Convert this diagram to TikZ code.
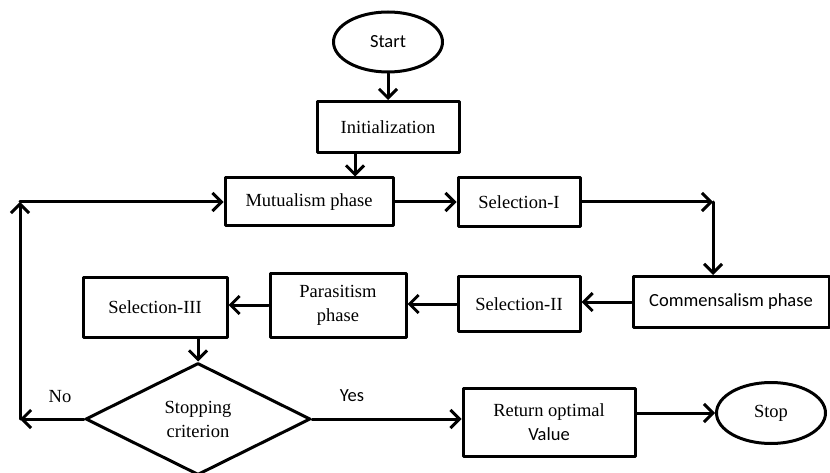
\documentclass[tikz,border=0pt]{standalone}
\usepackage{fontspec}
\setmainfont{Liberation Serif}
\newfontfamily\calibri{Carlito}
\usetikzlibrary{shapes.geometric,arrows.meta}

\begin{document}
\begin{tikzpicture}[x=1pt, y=-1pt, line width=3pt, line cap=round, line join=round,
  font=\fontsize{18.5}{24}\selectfont,
  box/.style={draw, rectangle, inner sep=0pt, align=center},
  term/.style={draw, ellipse, inner sep=0pt},
  flow/.style={-{Straight Barb[length=9pt,width=18pt]}}]
  \useasboundingbox (0,0) rectangle (830,473);
  % start and stop
  \node[term, minimum width=109pt, minimum height=60pt] (start) at (388,42) {\calibri Start};
  \node[term, minimum width=109pt, minimum height=61pt] (stop) at (771,413) {Stop};
  % process boxes
  \node[box, minimum width=142pt, minimum height=51pt] (init) at (388,127) {Initialization};
  \node[box, minimum width=168pt, minimum height=48pt] (mutual) at (309,202) {Mutualism phase};
  \node[box, minimum width=122pt, minimum height=49pt] (selI) at (519,202) {Selection-I};
  \node[box, minimum width=196pt, minimum height=51pt] (comm) at (731,302) {\calibri Commensalism phase};
  \node[box, minimum width=122pt, minimum height=55pt] (selII) at (519,304) {Selection-II};
  \node[box, minimum width=136pt, minimum height=64pt] (para) at (338,305) {Parasitism\\phase};
  \node[box, minimum width=144pt, minimum height=60pt] (selIII) at (155,307) {Selection-III};
  \node[box, minimum width=172pt, minimum height=68pt] (ret) at (549,422) {Return optimal\\{\calibri Value}};
  % decision
  \node[diamond, draw, aspect=2, minimum width=225pt, minimum height=112pt, inner sep=0pt, align=center] (crit) at (198,419) {Stopping\\criterion};
  \node (no) at (60,397) {No};
  \node (yes) at (352,396) {\calibri Yes};
  % corners
  \coordinate (bend) at (713,202);
  \coordinate (loop) at (20,419);
  \coordinate (looptop) at (20,202);
  % connectors
  \draw[flow] (start) -- (init);
  \draw[flow] ([xshift=-33pt]init.south) -- ([xshift=46pt]mutual.north);
  \draw[flow] (mutual) -- (selI);
  \draw[flow] (selI) -- (bend);
  \draw[flow] (bend) -- (bend |- comm.north);
  \draw[flow] (comm.west) -- (comm.west -| selII.east);
  \draw[flow] (selII.west) -- (selII.west -| para.east);
  \draw[flow] (para.west) -- (para.west -| selIII.east);
  \draw[flow] (selIII.south -| crit.north) -- (crit.north);
  \draw[flow] (crit.west) -- (loop);
  \draw[flow] (loop) -- (looptop);
  \draw[flow] (looptop) -- (mutual.west);
  \draw[flow] (crit.east) -- (ret.west |- crit.east);
  \draw[flow] (ret.east |- stop.west) -- (stop.west);
\end{tikzpicture}
\end{document}
